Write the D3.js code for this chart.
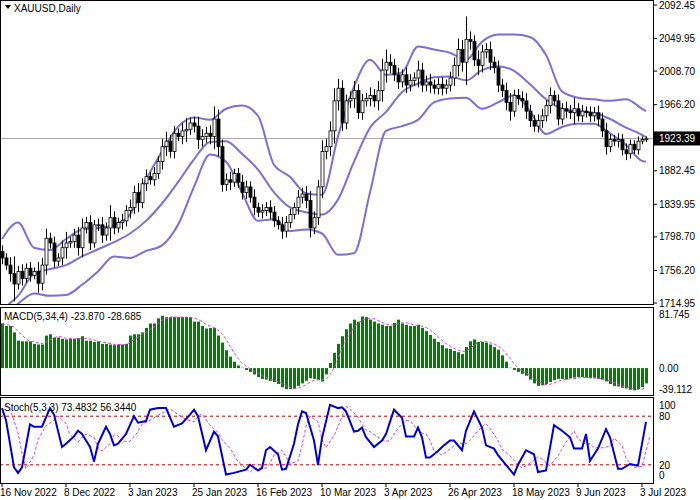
<!DOCTYPE html>
<html><head><meta charset="utf-8">
<script src="https://cdn.jsdelivr.net/npm/d3@7"></script>
<style>body{margin:0;background:#fff}svg{font-family:"Liberation Sans",Arial,sans-serif;font-size:10px}</style>
</head><body><svg id="c" width="700" height="500"></svg>
<script>
const closes=[1772,1763,1752,1739,1755,1746,1759,1750,1755,1740,1763,1797,1791,1768,1772,1785,1791,1793,1801,1785,1810,1817,1791,1814,1814,1801,1810,1823,1810,1817,1819,1832,1836,1855,1842,1866,1875,1871,1879,1894,1913,1920,1907,1930,1926,1933,1935,1943,1939,1922,1926,1930,1926,1948,1913,1865,1871,1868,1879,1868,1855,1862,1849,1836,1830,1832,1836,1830,1819,1814,1806,1817,1827,1836,1849,1853,1845,1810,1823,1862,1907,1913,1933,1971,1987,1943,1971,1974,1984,1956,1971,1974,1978,1971,1984,2010,2020,2016,2004,1995,2004,1991,1997,2000,2010,1991,1995,1991,1987,1992,1987,1991,2000,2016,2036,2020,2049,2046,2023,2016,2033,2036,2020,2013,1991,1984,1969,1958,1978,1974,1971,1958,1946,1939,1946,1952,1965,1978,1971,1948,1961,1958,1956,1961,1952,1958,1956,1952,1956,1948,1933,1913,1922,1920,1922,1909,1904,1916,1909,1920,1922,1923];
const wicks=[8,6,10,22,7,9,6,8,5,12,9,12,7,8,6,9,14,6,8,10,12,7,9,6,8,10,7,16,8,6,9,7,10,8,12,7,9,6,8,7,10,12,8,9,6,10,14,7,8,12,9,8,10,16,12,9,8,10,6,7,9,8,7,10,6,8,7,9,8,6,10,8,7,6,9,8,10,12,8,9,14,10,12,16,12,10,8,9,12,8,9,7,10,8,12,14,16,10,8,9,7,10,8,7,12,9,8,10,7,8,9,7,8,10,14,12,29,10,8,12,9,8,10,7,9,8,10,12,7,8,9,10,8,7,8,9,7,10,6,8,7,9,8,14,7,8,6,8,7,9,8,10,7,6,8,7,8,6,5,6,4,3];
const bandBars=[0,4,8,12,16,20,24,28,32,36,40,44,48,52,56,60,64,68,72,76,80,84,88,92,96,100,104,108,112,116,120,124,128,132,136,140,144,148,152,156,160,161];
const bbUpper=[1796,1817,1785,1782,1796,1808,1810,1814,1827,1871,1907,1938,1950,1947,1961,1965,1952,1890,1875,1854,1852,1926,1989,2023,2004,2007,2040,2036,2032,2023,2046,2055,2055,2052,2029,1983,1975,1973,1971,1973,1961,1958];
const bbMiddle=[1707,1724,1752,1758,1763,1774,1783,1792,1803,1819,1841,1868,1897,1919,1920,1904,1884,1855,1836,1830,1827,1846,1894,1937,1957,1982,1993,2001,2002,1997,2010,2015,2009,1992,1973,1961,1958,1956,1948,1937,1928,1925];
const bbLower=[1698,1714,1727,1724,1725,1738,1755,1774,1772,1781,1788,1814,1862,1903,1894,1855,1819,1821,1806,1808,1803,1776,1778,1855,1933,1939,1947,1969,1974,1975,1961,1969,1978,1958,1929,1938,1942,1942,1930,1915,1895,1894];
const macd=[70,66,66,56,43,42,42,42,38,37,37,51,53,48,48,46,45,46,46,47,50,43,43,41,42,38,38,37,36,37,37,38,51,53,53,56,63,70,70,78,82,80,80,80,80,80,80,80,73,73,66,62,63,63,51,40,28,18,10,4,0.5,-3,-6,-10,-14,-17,-18,-20,-22,-25,-30,-33,-33,-32,-28,-24,-20,-16,-17,-19,-21,-10,8,24,38,50,61,70,76,73,81,80,76,73,70,68,66,66,71,76,70,68,66,66,68,63,58,52,46,41,36,31,30,27,25,22,33,42,45,41,41,40,37,33,29,20,10,0.5,-3,-6,-9,-12,-18,-24,-28,-27,-25,-22,-19,-17,-17,-18,-16,-15,-14,-14,-15,-16,-16,-17,-18,-21,-25,-28,-29,-31,-32,-34,-35,-33,-30,-24];
const stochBars=[0,1,3,4,5,7,8,10,12,13,15,16,18,19,20,22,23,24,26,27,28,29,31,33,34,36,37,39,41,43,45,47,48,49,51,53,54,56,58,61,62,64,65,66,67,69,70,71,73,74,75,76,78,79,80,82,84,85,86,88,89,90,91,93,95,96,98,100,101,103,104,105,106,107,109,110,112,113,115,116,118,120,121,123,124,126,128,129,131,133,134,136,138,140,142,143,145,146,147,149,151,152,154,155,157,159,161];
const stochK=[90,75,17,10,17,70,67,67,90,82,42,46,55,62,58,42,24,46,67,58,44,46,58,80,72,74,88,90,90,67,71,82,88,80,38,61,55,8,10,14,20,13,16,38,42,33,14,15,46,70,86,84,50,20,53,94,90,91,86,61,62,66,54,42,50,58,88,78,55,55,66,54,29,29,37,42,50,50,38,62,86,66,44,40,32,20,8,20,38,33,11,13,69,62,54,40,40,58,25,40,64,54,15,15,21,19,73];
const stochD=[95,88,60,34,15,32,51,68,75,80,71,57,48,54,58,54,41,37,46,57,56,49,49,61,70,75,78,84,89,82,76,73,80,83,69,60,51,41,24,11,15,16,16,22,32,38,30,21,25,44,67,80,73,51,41,56,79,92,89,79,70,63,61,54,49,50,65,75,74,63,59,58,50,37,32,36,43,47,46,50,62,71,65,50,39,31,20,16,22,30,27,19,31,48,62,52,45,46,41,41,43,53,44,28,17,18,56];
const priceTicks=[2092.45,2049.95,2008.70,1966.20,1882.45,1839.95,1798.70,1756.20,1714.95];
const lastPrice=1923.39;
const macdTicks=[81.745,0,-39.112];
const stochTicks=[100,80,20,0];
const dateLabels=["16 Nov 2022","8 Dec 2022","3 Jan 2023","25 Jan 2023","16 Feb 2023","10 Mar 2023","3 Apr 2023","26 Apr 2023","18 May 2023","9 Jun 2023","3 Jul 2023"];
const dateBars=[0,16,32,48,64,80,96,112,128,144,160];

const svg=d3.select("#c");
const R=653;
const x=d3.scaleLinear().domain([0,161]).range([2,646]);
const y=d3.scaleLinear().domain([1714.95,2092.45]).range([303,5]);
const ym=d3.scaleLinear().domain([-39.112,81.745]).range([393,316]);
const ys=d3.scaleLinear().domain([0,100]).range([481,400]);
[[0,304],[307,395],[397,483]].forEach(([t,b])=>svg.append("rect").attr("x",0.5).attr("y",t+0.5).attr("width",R).attr("height",b-t).attr("fill","none").attr("stroke","#000"));
svg.append("defs").selectAll("clipPath").data([[0,304],[307,395],[397,483]]).join("clipPath").attr("id",(d,i)=>"cp"+i).append("rect").attr("x",1).attr("y",d=>d[0]+1).attr("width",R-1).attr("height",d=>d[1]-d[0]-1);
const g0=svg.append("g").attr("clip-path","url(#cp0)");
g0.append("line").attr("x1",0).attr("x2",R).attr("y1",y(lastPrice)).attr("y2",y(lastPrice)).attr("stroke","#aaa");
const bl=d3.line().x((d,i)=>x(bandBars[i])).y(d=>y(d)).curve(d3.curveMonotoneX);
[bbUpper,bbMiddle,bbLower].forEach(a=>g0.append("path").attr("d",bl(a)).attr("fill","none").attr("stroke","#7b6fd6").attr("stroke-width",2));
closes.forEach((c,i)=>{
  const o=i?closes[i-1]:1780, hi=Math.max(o,c)+wicks[i], lo=Math.min(o,c)-wicks[i];
  const cx=Math.round(x(i))+0.5;
  g0.append("line").attr("x1",cx).attr("x2",cx).attr("y1",y(hi)).attr("y2",y(lo)).attr("stroke","#000");
  const t=y(Math.max(o,c)),b=y(Math.min(o,c));
  g0.append("rect").attr("x",cx-1.5).attr("y",t).attr("width",3).attr("height",Math.max(1,b-t)).attr("fill",c>=o?"#fff":"#000").attr("stroke","#000").attr("stroke-width",0.8);
});
priceTicks.forEach(p=>{svg.append("line").attr("x1",R).attr("x2",R+4).attr("y1",y(p)).attr("y2",y(p)).attr("stroke","#000");
  svg.append("text").attr("x",R+6).attr("y",y(p)+3.5).text(p.toFixed(2));});
svg.append("rect").attr("x",R+1).attr("y",y(lastPrice)-7).attr("width",46).attr("height",14).attr("fill","#000");
svg.append("text").attr("x",R+6).attr("y",y(lastPrice)+3.5).attr("fill","#fff").text(lastPrice.toFixed(2));
svg.append("path").attr("d","M5,5 L11,5 L8,9 Z").attr("fill","#000");
svg.append("text").attr("x",14).attr("y",12).text("XAUUSD,Daily");
const g1=svg.append("g").attr("clip-path","url(#cp1)");
macd.forEach((v,i)=>g1.append("rect").attr("x",Math.round(x(i))-1).attr("width",3).attr("y",Math.min(ym(v),ym(0))).attr("height",Math.abs(ym(v)-ym(0))).attr("fill","#008000"));
const sig=macd.map((v,i)=>d3.mean(macd.slice(Math.max(0,i-3),i+1)));
g1.append("path").attr("d",d3.line().x((d,i)=>x(i)).y(d=>ym(d))(sig)).attr("fill","none").attr("stroke","#e040e0").attr("stroke-dasharray","3,2");
const macdLabY=[318,372,393];
macdTicks.forEach((v,i)=>svg.append("text").attr("x",R+6).attr("y",macdLabY[i]).text(v===0?"0.00":v.toFixed(3)));
svg.append("text").attr("x",4).attr("y",320).text("MACD(5,34,4) -23.870 -28.685");
const g2=svg.append("g").attr("clip-path","url(#cp2)");
[80,20].forEach(v=>g2.append("line").attr("x1",0).attr("x2",R).attr("y1",ys(v)).attr("y2",ys(v)).attr("stroke","#c00000").attr("stroke-dasharray","3,3"));
g2.append("path").attr("d",d3.line().x((d,i)=>x(stochBars[i]+1)).y(d=>ys(d))(stochD)).attr("fill","none").attr("stroke","#e040e0").attr("stroke-dasharray","3,2");
g2.append("path").attr("d",d3.line().x((d,i)=>x(stochBars[i])).y(d=>ys(d))(stochK)).attr("fill","none").attr("stroke","#0000cc").attr("stroke-width",2);
const stochLabY=[409,420,469,479];
stochTicks.forEach((v,i)=>svg.append("text").attr("x",R+6).attr("y",stochLabY[i]).text(v));
svg.append("text").attr("x",4).attr("y",411).text("Stoch(5,3,3) 73.4832 56.3440");
dateBars.forEach((b,i)=>{svg.append("line").attr("x1",x(b)).attr("x2",x(b)).attr("y1",483).attr("y2",487).attr("stroke","#000");
  svg.append("text").attr("x",x(b)-2).attr("y",496).text(dateLabels[i]);});
</script></body></html>
